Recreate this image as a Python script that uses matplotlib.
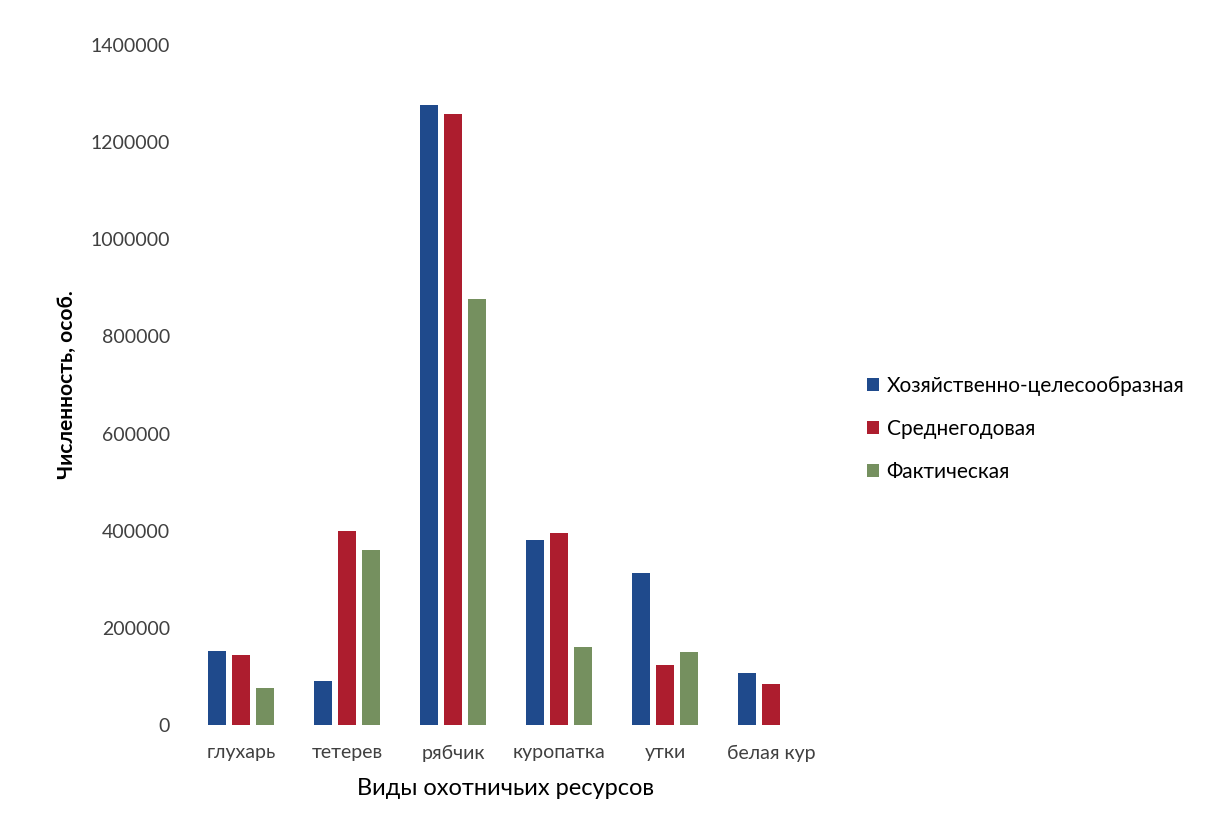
import matplotlib.pyplot as plt
import numpy as np

plt.rcParams['font.family'] = ['Lato', 'DejaVu Sans']

categories = ['глухарь', 'тетерев', 'рябчик', 'куропатка', 'утки', 'белая кур']
series_names = ['Хозяйственно-целесообразная', 'Среднегодовая', 'Фактическая']
hoz = [152000, 90000, 1276000, 381000, 313000, 107000]
sred = [145000, 400000, 1258000, 395000, 124000, 84000]
fakt = [77000, 360000, 877000, 161000, 150000, 0]
colors = ['#1f4a8c', '#ad1d2e', '#75905f']

yticks = [0, 200000, 400000, 600000, 800000, 1000000, 1200000, 1400000]

fig = plt.figure(figsize=(12.14, 8.34), dpi=100)
ax = fig.add_axes([188 / 1214, 1 - 725 / 834, 636 / 1214, 680 / 834])

x = np.arange(len(categories))
w = 0.17
step = 0.225
for i, (vals, name) in enumerate(zip([hoz, sred, fakt], series_names)):
    ax.bar(x + (i - 1) * step, vals, width=w, color=colors[i], label=name)

ax.set_xlim(-0.5, len(categories) - 0.5)
ax.set_ylim(0, 1400000)
ax.set_yticks(yticks)
ax.set_yticklabels([str(v) for v in yticks], fontsize=14, color='#404040')
ax.set_xticks(x)
ax.set_xticklabels(categories, fontsize=14, color='#404040')
ax.tick_params(axis='y', length=0, pad=13)
ax.tick_params(axis='x', length=0, pad=14)
for s in ax.spines.values():
    s.set_visible(False)

ax.set_ylabel('Численность, особ.', fontsize=15, fontweight='bold', labelpad=10)
ax.set_xlabel('Виды охотничьих ресурсов', fontsize=17, labelpad=12)

fig.legend(loc='upper left', bbox_to_anchor=(848 / 1214, 1 - 357 / 834),
           frameon=False, fontsize=15, handlelength=0.6, handleheight=0.6,
           handletextpad=0.35, labelspacing=1.1)

fig.savefig('out.png', dpi=100)
